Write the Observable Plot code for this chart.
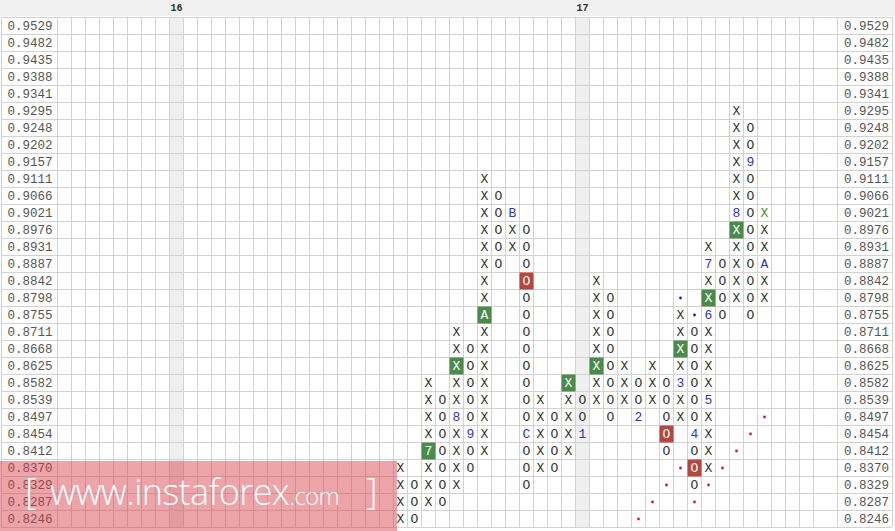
<!DOCTYPE html>
<html>
<head>
<meta charset="utf-8">
<script src="https://cdn.jsdelivr.net/npm/d3@7"></script>
<script src="https://cdn.jsdelivr.net/npm/@observablehq/plot@0.6"></script>
<style>
html, body { margin: 0; padding: 0; background: #fff; }
#wrap { position: relative; width: 895px; height: 531px; overflow: hidden;
  background: linear-gradient(#f0f0f0 0, #f0f0f0 16px, #fff 16px); }
#chart svg { display: block; background: transparent; }
#wm { position: absolute; left: 0; top: 461px; width: 397px; height: 70px;
  background: rgba(214, 62, 72, 0.47); pointer-events: none; color: #fff;
  font-family: "Open Sans", "Liberation Sans", sans-serif; }
#wm span { position: absolute; white-space: nowrap; line-height: 1; }
#wm .br { font-size: 36px; font-weight: 300; }
#wm .w { font-size: 36px; font-weight: 300; left: 50px; top: 13px; letter-spacing: -0.6px; }
#wm .c { font-size: 24px; font-weight: 300; top: 25px; }
</style>
</head>
<body>
<div id="wrap">
  <div id="chart"></div>
  <div id="wm"><span class="br" style="left:25px;top:12px">[</span><span class="w">www.instaforex<span class="c" style="position:relative;top:0">.com</span></span><span class="br" style="left:366px;top:12px">]</span></div>
</div>
<script>
// Price levels (one per row, top to bottom)
const prices = ["0.9529","0.9482","0.9435","0.9388","0.9341","0.9295","0.9248","0.9202","0.9157","0.9111",
  "0.9066","0.9021","0.8976","0.8931","0.8887","0.8842","0.8798","0.8755","0.8711","0.8668",
  "0.8625","0.8582","0.8539","0.8497","0.8454","0.8412","0.8370","0.8329","0.8287","0.8246"];

// Period separators (year markers in header)
const periodLabels = ["16", "17"];
const periodColumns = [8, 37];

// Point & figure columns
const columnIndex = [24, 25, 26, 27, 28, 29, 30, 31, 32, 33, 34, 35, 36, 37, 38, 39, 40, 41, 42, 43, 44, 45, 46, 47, 48, 49, 50];
const columnKind  = ["X","O","X","O","X","O","X","O","X","O","X","O","X","O","X","O","X","O","X","O","X","O","X","O","X","O","X"];
const columnHigh  = ["0.8370","0.8329","0.8582","0.8539","0.8711","0.8668","0.9111","0.9066","0.9021","0.8976",
  "0.8539","0.8497","0.8582","0.8539","0.8842","0.8798","0.8625","0.8582","0.8625","0.8582",
  "0.8755","0.8711","0.8931","0.8887","0.9295","0.9248","0.9021"];
const columnLow   = ["0.8246","0.8246","0.8287","0.8287","0.8329","0.8370","0.8412","0.8887","0.8931","0.8329",
  "0.8370","0.8370","0.8412","0.8454","0.8539","0.8497","0.8539","0.8497","0.8539","0.8412",
  "0.8497","0.8329","0.8370","0.8755","0.8798","0.8755","0.8798"];

// Month markers written into boxes
const markCol   = [26, 28, 29, 30, 32, 33, 37, 41, 44, 45, 46, 46, 46, 48, 49, 50];
const markPrice = ["0.8412","0.8497","0.8454","0.8755","0.9021","0.8454","0.8454","0.8497","0.8582","0.8454","0.8539","0.8755","0.8887","0.9021","0.9157","0.8887"];
const markText  = ["7","8","9","A","B","C","1","2","3","4","5","6","7","8","9","A"];
const markBoxed = [true,false,false,true,false,false,false,false,false,false,false,false,false,false,false,false];

// Signal boxes
const buyCol   = [28, 36, 38, 44, 46, 48];
const buyPrice = ["0.8625","0.8582","0.8625","0.8668","0.8798","0.8976"];
const sellCol   = [33, 43, 45];
const sellPrice = ["0.8842","0.8454","0.8370"];
const greenTextCol = [50];
const greenTextPrice = ["0.9021"];

// Trend line dots
const redDotCol   = [41, 42, 43, 44, 45, 46, 47, 48, 49, 50];
const redDotPrice = ["0.8246","0.8287","0.8329","0.8370","0.8287","0.8329","0.8370","0.8412","0.8454","0.8497"];
const blueDotCol   = [44, 45];
const blueDotPrice = ["0.8798","0.8755"];

const row = p => prices.indexOf(p);
const key = (c, r) => c + ":" + r;

// Build lookup of special cells
const special = new Map();
markCol.forEach((c, i) => special.set(key(c, row(markPrice[i])), {type: markBoxed[i] ? "greenbox" : "month", text: markText[i]}));
buyCol.forEach((c, i) => special.set(key(c, row(buyPrice[i])), {type: "greenbox", text: "X"}));
sellCol.forEach((c, i) => special.set(key(c, row(sellPrice[i])), {type: "redbox", text: "O"}));
greenTextCol.forEach((c, i) => special.set(key(c, row(greenTextPrice[i])), {type: "greentext", text: "X"}));

const cells = [];
columnIndex.forEach((c, i) => {
  const r0 = row(columnHigh[i]), r1 = row(columnLow[i]);
  for (let r = r0; r <= r1; r++) {
    const s = special.get(key(c, r));
    cells.push({col: c, row: r, text: s ? s.text : columnKind[i], type: s ? s.type : "plain"});
  }
});
const boxes = cells.filter(d => d.type === "greenbox" || d.type === "redbox");
const periods = periodLabels.map((t, i) => ({label: t, col: periodColumns[i]}));
const dots = [
  ...redDotCol.map((c, i) => ({col: c, row: row(redDotPrice[i]), color: "#cc2020"})),
  ...blueDotCol.map((c, i) => ({col: c, row: row(blueDotPrice[i]), color: "#2020aa"}))
];

const nRows = prices.length;
const nCols = 55;
const LEFT_BOX = -4, RIGHT_BOX = 55.714, RIGHT_END = 59.643;
const mono = "'Liberation Mono', 'DejaVu Sans Mono', monospace";
const rowIdx = d3.range(nRows);

const chart = Plot.plot({
  width: 895,
  height: 531,
  marginTop: 0, marginRight: 0, marginBottom: 0, marginLeft: 0,
  x: {type: "linear", domain: [-4, 60], range: [1, 897], axis: null},
  y: {type: "linear", domain: [-1, 30], range: [0, 527], axis: null},
  style: {background: "transparent", fontFamily: mono},
  marks: [
    Plot.rect(periods, {x1: d => d.col, x2: d => d.col + 1, y1: 0, y2: nRows, fill: "#efefef"}),
    Plot.ruleY(d3.range(nRows + 1), {x1: LEFT_BOX, x2: RIGHT_END, stroke: "#d2d2d2", strokeWidth: 1}),
    Plot.ruleX(d3.range(nCols), {y1: 0, y2: nRows, stroke: "#d2d2d2", strokeWidth: 1}),
    Plot.ruleX([LEFT_BOX, RIGHT_BOX, RIGHT_END], {y1: 0, y2: nRows, stroke: "#d2d2d2", strokeWidth: 1}),
    Plot.text(periods, {x: d => d.col + 0.5, y: -0.5, text: "label", fontSize: 10, fontWeight: "bold", fill: "#333", dy: -1}),
    Plot.text(rowIdx, {x: LEFT_BOX, y: d => d + 0.5, text: d => prices[d], textAnchor: "start", dx: 6, fontSize: 12.5, fill: "#555"}),
    Plot.text(rowIdx, {x: RIGHT_BOX, y: d => d + 0.5, text: d => prices[d], textAnchor: "start", dx: 6.5, fontSize: 12.5, fill: "#555"}),
    Plot.rect(boxes, {x1: "col", x2: d => d.col + 1, y1: "row", y2: d => d.row + 1, insetLeft: 0.5, insetTop: 0.5, insetRight: -0.5, insetBottom: -0.5,
      fill: d => d.type === "greenbox" ? "#4a8a4a" : "#b4473e"}),
    Plot.text(cells, {x: d => d.col + 0.5, y: d => d.row + 0.5, text: "text", fontSize: 13,
      fontWeight: d => (d.type === "plain" || d.type === "month") ? "normal" : "bold",
      fill: d => d.type === "plain" ? "#333" : d.type === "month" ? "#3535b0" : d.type === "greentext" ? "#3d9a2a" : "#fff"}),
    Plot.dot(dots, {x: d => d.col + 0.5, y: d => d.row + 0.5, r: 1.4, fill: "color", stroke: null})
  ]
});
document.getElementById("chart").appendChild(chart);
</script>
</body>
</html>
